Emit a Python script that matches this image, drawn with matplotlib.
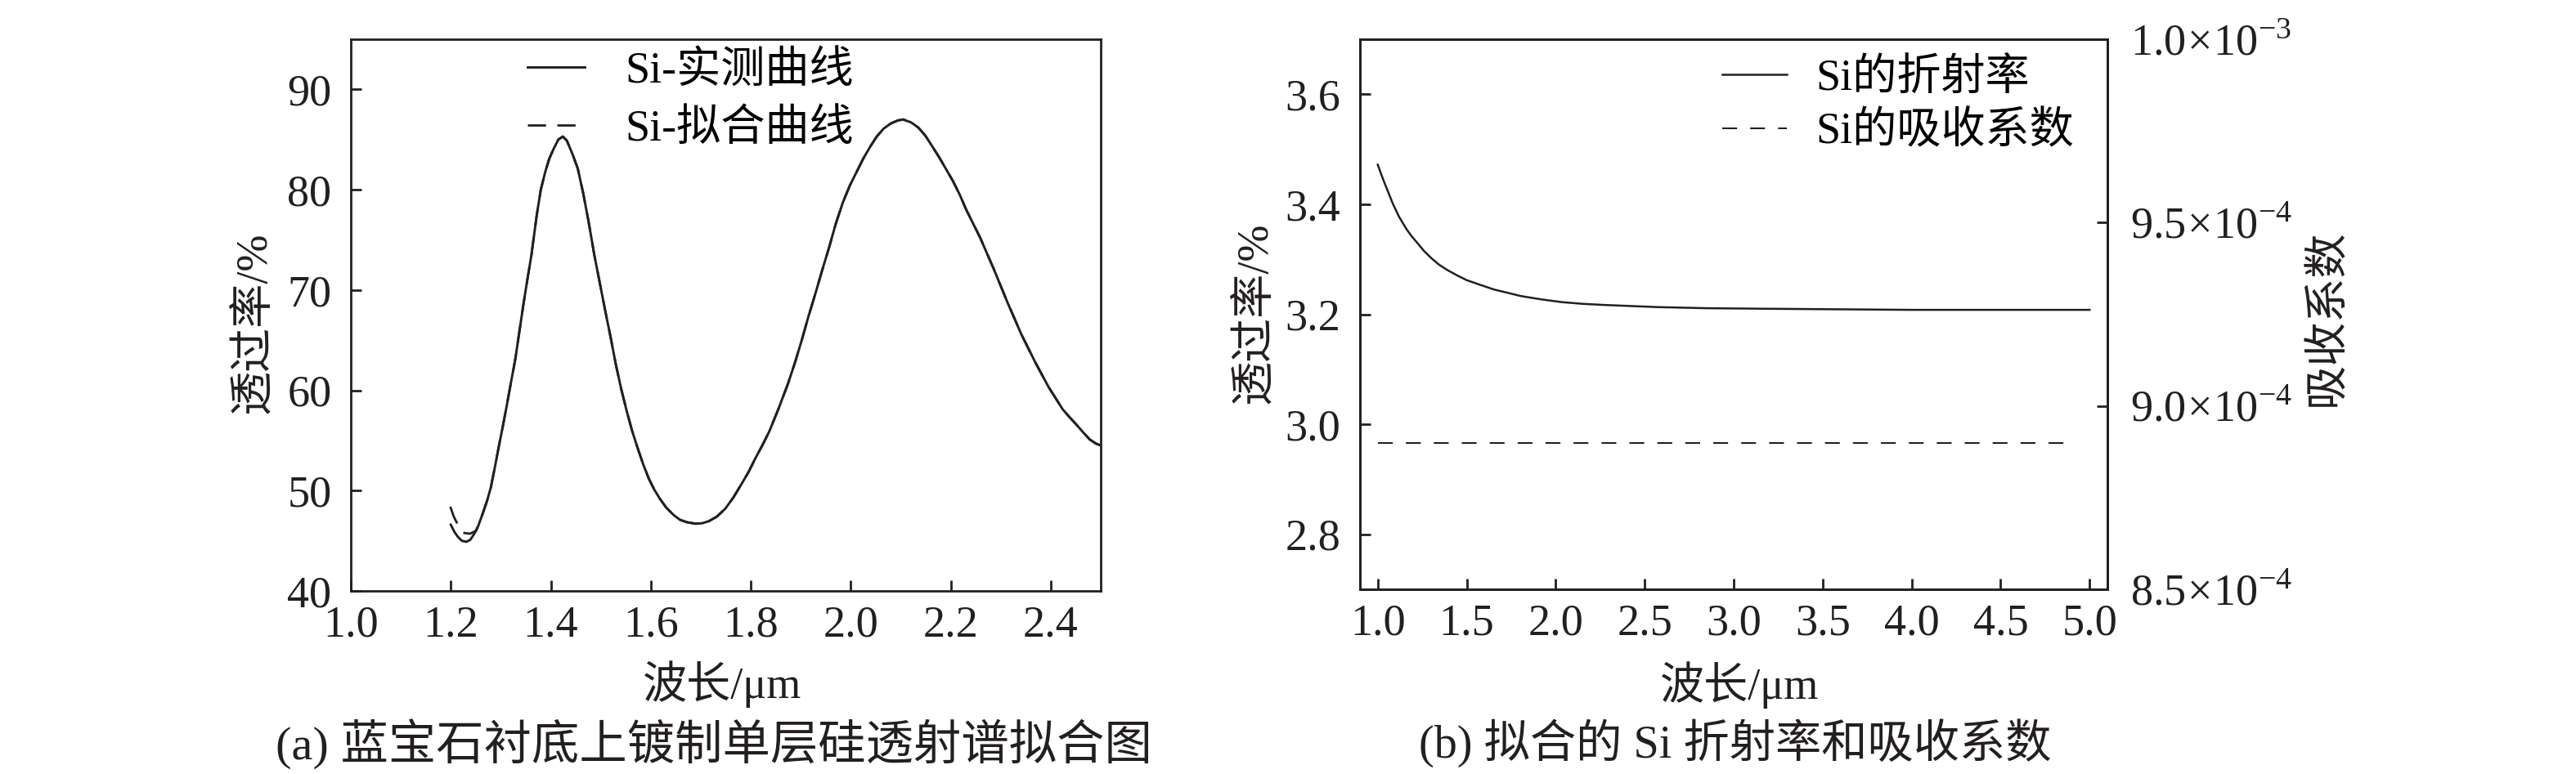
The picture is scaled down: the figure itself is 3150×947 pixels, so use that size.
import matplotlib
matplotlib.use("Agg")
import matplotlib.pyplot as plt
from matplotlib.ticker import FixedLocator, FixedFormatter

plt.rcParams['font.family'] = ['Liberation Serif', 'Noto Sans CJK SC']
plt.rcParams['mathtext.fontset'] = 'custom'
plt.rcParams['mathtext.rm'] = 'Liberation Serif'
plt.rcParams['axes.unicode_minus'] = True

INK = '#231f20'
FS = 39

# (a) 透射谱 - 实测
meas_wl = [1.200, 1.207, 1.214, 1.222, 1.231, 1.239, 1.247, 1.255, 1.263, 1.272,
           1.280, 1.288, 1.296, 1.304, 1.312, 1.320, 1.329, 1.337, 1.345, 1.353,
           1.361, 1.372, 1.380, 1.389, 1.397, 1.405, 1.415, 1.424, 1.432, 1.443,
           1.454, 1.465, 1.476, 1.487, 1.498, 1.509, 1.520, 1.530, 1.541, 1.552,
           1.563, 1.574, 1.585, 1.596, 1.607, 1.618, 1.631, 1.645, 1.658, 1.672,
           1.690, 1.703, 1.716, 1.732, 1.749, 1.765, 1.782, 1.796, 1.809, 1.823,
           1.837, 1.855, 1.874, 1.888, 1.902, 1.915, 1.929, 1.943, 1.957, 1.970,
           1.984, 1.998, 2.012, 2.025, 2.039, 2.052, 2.066, 2.080, 2.094, 2.105,
           2.121, 2.135, 2.149, 2.162, 2.176, 2.190, 2.204, 2.218, 2.231, 2.245,
           2.259, 2.272, 2.286, 2.300, 2.314, 2.328, 2.341, 2.355, 2.369, 2.383,
           2.396, 2.410, 2.424, 2.438, 2.451, 2.465, 2.478, 2.490, 2.500]
meas_T = [46.6, 45.9, 45.4, 45.0, 44.9, 45.1, 45.7, 46.5, 47.6, 48.9,
          50.3, 52.3, 54.4, 56.4, 58.5, 60.7, 63.1, 65.8, 68.5, 71.0,
          73.4, 77.5, 80.0, 81.8, 83.1, 84.0, 85.0, 85.3, 84.9, 83.6,
          82.1, 79.6, 76.7, 73.5, 70.7, 67.9, 65.2, 62.6, 60.1, 57.9,
          55.9, 54.2, 52.6, 51.2, 50.1, 49.2, 48.3, 47.6, 47.1, 46.85,
          46.7, 46.75, 46.95, 47.4, 48.2, 49.3, 50.7, 51.9, 53.2, 54.5,
          55.9, 58.1, 60.6, 62.7, 65.0, 67.3, 69.6, 72.0, 74.3, 76.6,
          78.7, 80.4, 81.8, 83.1, 84.3, 85.3, 86.1, 86.6, 86.9, 87.0,
          86.7, 86.2, 85.4, 84.4, 83.3, 82.1, 80.9, 79.5, 78.0, 76.6,
          75.2, 73.7, 72.1, 70.4, 68.7, 67.1, 65.6, 64.2, 62.8, 61.5,
          60.3, 59.2, 58.1, 57.3, 56.6, 55.8, 55.1, 54.7, 54.5]

# (a) 透射谱 - 拟合 (起点处与实测分开, 之后重合)
fit_wl = [1.199, 1.206, 1.215, 1.224, 1.238, 1.251] + meas_wl[8:]
fit_T = [48.4, 47.4, 46.5, 45.8, 45.7, 46.0] + meas_T[8:]

# (b) 折射率 / 吸收系数
n_wl = [1.0, 1.02, 1.04, 1.06, 1.086, 1.12, 1.163, 1.19, 1.224, 1.26,
        1.301, 1.345, 1.393, 1.45, 1.50, 1.58, 1.653, 1.73, 1.806, 1.92,
        2.036, 2.15, 2.266, 2.42, 2.573, 2.85, 3.185, 3.6, 4.0, 4.5, 5.0]
n_val = [3.472, 3.454, 3.437, 3.421, 3.400, 3.377, 3.354, 3.342, 3.329, 3.315,
         3.302, 3.290, 3.280, 3.270, 3.262, 3.253, 3.245, 3.239, 3.233, 3.227,
         3.222, 3.219, 3.217, 3.215, 3.213, 3.211, 3.210, 3.209, 3.208, 3.208, 3.208]
k_wl = [1.0, 2.0, 3.0, 4.0, 4.885]
k_val = [8.9e-4, 8.9e-4, 8.9e-4, 8.9e-4, 8.9e-4]

xt_a = [1.0, 1.2, 1.4, 1.6, 1.8, 2.0, 2.2, 2.4]
yt_a = [40, 50, 60, 70, 80, 90]
xt_b = [1.0, 1.5, 2.0, 2.5, 3.0, 3.5, 4.0, 4.5, 5.0]
yt_b = [2.8, 3.0, 3.2, 3.4, 3.6]
yt_k = [8.5e-4, 9.0e-4, 9.5e-4, 1.0e-3]
yt_k_lab = [r'$8.5\!\times\!10^{-4}$', r'$9.0\!\times\!10^{-4}$',
            r'$9.5\!\times\!10^{-4}$', r'$1.0\!\times\!10^{-3}$']

fig = plt.figure(figsize=(31.5, 9.47), dpi=100)
W, H = 3150, 947


def box(l, r, t, b):
    return [l / W, 1 - b / H, (r - l) / W, (b - t) / H]


def style(ax):
    for s in ax.spines.values():
        s.set_linewidth(2.0)
        s.set_color(INK)
    ax.tick_params(direction='in', length=9.5, width=2.0, color=INK,
                   labelsize=FS, labelcolor=INK, top=False, right=False)
    ax.tick_params(axis='x', pad=12)
    ax.tick_params(axis='y', pad=17)


# ---- (a)
ax = fig.add_axes(box(429, 1346, 48, 723))
ax.plot(meas_wl, meas_T, color=INK, lw=2.1, label='Si-实测曲线')
ax.plot(fit_wl, fit_T, color=INK, lw=2.0, linestyle=(0, (8, 5)), label='Si-拟合曲线')
ax.set_xlim(1.0, 2.5)
ax.set_ylim(40, 95)
ax.set_xticks(xt_a)
ax.set_xticklabels([f'{v:.1f}' for v in xt_a])
ax.set_yticks(yt_a)
ax.set_yticklabels([str(v) for v in yt_a])
style(ax)
ax.set_xlabel('波长/μm', fontsize=FS, color=INK, va='center', ha='center')
ax.xaxis.set_label_coords(0.495, -0.169)
ax.set_ylabel('透过率/%', fontsize=FS, color=INK, va='center', ha='center')
ax.yaxis.set_label_coords(-0.1287, 0.487)
ax.legend(loc='upper left', bbox_to_anchor=(0.2355, 0.978), frameon=False,
          fontsize=FS, borderpad=0, borderaxespad=0, handlelength=1.3,
          handletextpad=0.9, labelspacing=0.38)

# ---- (b)
axb = fig.add_axes(box(1663, 2577, 48, 721))
l1, = axb.plot(n_wl, n_val, color=INK, lw=1.8, label='Si的折射率')
axb.set_xlim(0.9, 5.1)
axb.set_ylim(2.7, 3.7)
axb.set_xticks(xt_b)
axb.set_xticklabels([f'{v:.1f}' for v in xt_b])
axb.set_yticks(yt_b)
axb.set_yticklabels([f'{v:.1f}' for v in yt_b])
style(axb)
axb.set_xlabel('波长/μm', fontsize=FS, color=INK, va='center', ha='center')
axb.xaxis.set_label_coords(0.508, -0.174)
axb.set_ylabel('透过率/%', fontsize=FS, color=INK, va='center', ha='center')
axb.yaxis.set_label_coords(-0.140, 0.502)

axk = axb.twinx()
l2, = axk.plot(k_wl, k_val, color=INK, lw=1.5, linestyle=(0, (8.7, 7.7)),
               label='Si的吸收系数')
axk.set_ylim(8.5e-4, 1.0e-3)
axk.yaxis.set_major_locator(FixedLocator(yt_k))
axk.yaxis.set_major_formatter(FixedFormatter(yt_k_lab))
for s in axk.spines.values():
    s.set_linewidth(2.0)
    s.set_color(INK)
axk.tick_params(direction='in', length=9.5, width=2.0, color=INK,
                labelsize=FS, labelcolor=INK, pad=20)
axk.set_ylabel('吸收系数', fontsize=FS, color=INK, va='center', ha='center')
axk.yaxis.set_label_coords(1.2954, 0.493)

axb.legend(handles=[l1, l2], loc='upper left', bbox_to_anchor=(0.485, 0.965),
           frameon=False, fontsize=FS, borderpad=0, borderaxespad=0,
           handlelength=1.45, handletextpad=0.65, labelspacing=0.28)

# captions
fig.text(873 / W, 1 - 910 / H, '(a) 蓝宝石衬底上镀制单层硅透射谱拟合图',
         fontsize=42, color=INK, ha='center', va='center')
fig.text(2122 / W, 1 - 910 / H, '(b) 拟合的 Si 折射率和吸收系数',
         fontsize=40.5, color=INK, ha='center', va='center')

fig.savefig('out.png', dpi=100)
